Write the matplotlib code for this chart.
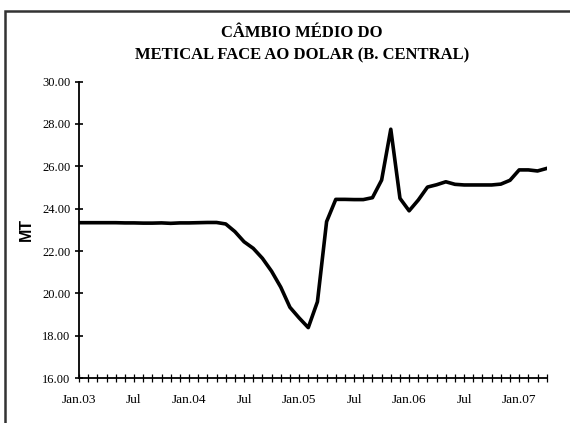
import numpy as np
import matplotlib
matplotlib.use("Agg")
import matplotlib.pyplot as plt
from matplotlib.patches import Rectangle

# === DADOS ===
MONTHS = ["Jan.03", "Feb.03", "Mar.03", "Apr.03", "May.03", "Jun.03", "Jul.03", "Aug.03",
          "Sep.03", "Oct.03", "Nov.03", "Dec.03", "Jan.04", "Feb.04", "Mar.04", "Apr.04",
          "May.04", "Jun.04", "Jul.04", "Aug.04", "Sep.04", "Oct.04", "Nov.04", "Dec.04",
          "Jan.05", "Feb.05", "Mar.05", "Apr.05", "May.05", "Jun.05", "Jul.05", "Aug.05",
          "Sep.05", "Oct.05", "Nov.05", "Dec.05", "Jan.06", "Feb.06", "Mar.06", "Apr.06",
          "May.06", "Jun.06", "Jul.06", "Aug.06", "Sep.06", "Oct.06", "Nov.06", "Dec.06",
          "Jan.07", "Feb.07", "Mar.07", "Apr.07"]
CAMBIO = [23.34, 23.34, 23.34, 23.34, 23.34, 23.33, 23.33, 23.32, 23.32, 23.33, 23.31, 23.33,
          23.33, 23.34, 23.35, 23.35, 23.28, 22.92, 22.44, 22.13, 21.66, 21.05, 20.30, 19.35,
          18.85, 18.39, 19.61, 23.39, 24.44, 24.44, 24.43, 24.43, 24.52, 25.35, 27.75, 24.49,
          23.90, 24.41, 25.02, 25.13, 25.27, 25.15, 25.12, 25.12, 25.12, 25.12, 25.16, 25.34,
          25.83, 25.83, 25.78, 25.90]
LABEL_POS = [0, 6, 12, 18, 24, 30, 36, 42, 48]
LABELS = ["Jan.03", "Jul", "Jan.04", "Jul", "Jan.05", "Jul", "Jan.06", "Jul", "Jan.07"]
YTICKS = [16, 18, 20, 22, 24, 26, 28, 30]

SERIF = ["Liberation Serif", "DejaVu Serif"]

fig = plt.figure(figsize=(5.70, 4.23), dpi=100)
ax = fig.add_axes([0.1386, 0.1057, 0.8205, 0.7016])

x = np.arange(len(CAMBIO))
ax.plot(x, CAMBIO, color="black", lw=2.6, solid_joinstyle="round")

ax.set_xlim(0, len(CAMBIO) - 1)
ax.set_ylim(16, 30)
ax.set_yticks(YTICKS)
ax.set_yticklabels([f"{v:.2f}" for v in YTICKS], family=SERIF, fontsize=9)
ax.set_xticks(x, minor=True)
ax.set_xticks(LABEL_POS)
ax.set_xticklabels(LABELS, family=SERIF, fontsize=9.6)

ax.tick_params(axis="y", direction="inout", length=6, width=1.2, pad=3)
ax.tick_params(axis="x", which="both", direction="inout", length=6, width=0.9, pad=8)

for s in ["top", "right"]:
    ax.spines[s].set_visible(False)
for s in ["left", "bottom"]:
    ax.spines[s].set_linewidth(1.3)

ax.set_ylabel("MT", family=["Liberation Sans", "DejaVu Sans"], fontweight="bold",
              fontsize=11.5, labelpad=6)

fig.text(0.53, 0.922, "CÂMBIO MÉDIO DO", ha="center", va="center",
         family=SERIF, fontweight="bold", fontsize=12)
fig.text(0.53, 0.870, "METICAL FACE AO DOLAR (B. CENTRAL)", ha="center", va="center",
         family=SERIF, fontweight="bold", fontsize=12)

# moldura do gráfico (corta fora da imagem à direita e em baixo)
frame = Rectangle((5 / 570, -0.2), 1.2, 1.2 - 10.5 / 423, transform=fig.transFigure,
                  fill=False, edgecolor="#333333", lw=1.8, clip_on=False)
fig.patches.append(frame)

fig.savefig("out.png", dpi=100)
